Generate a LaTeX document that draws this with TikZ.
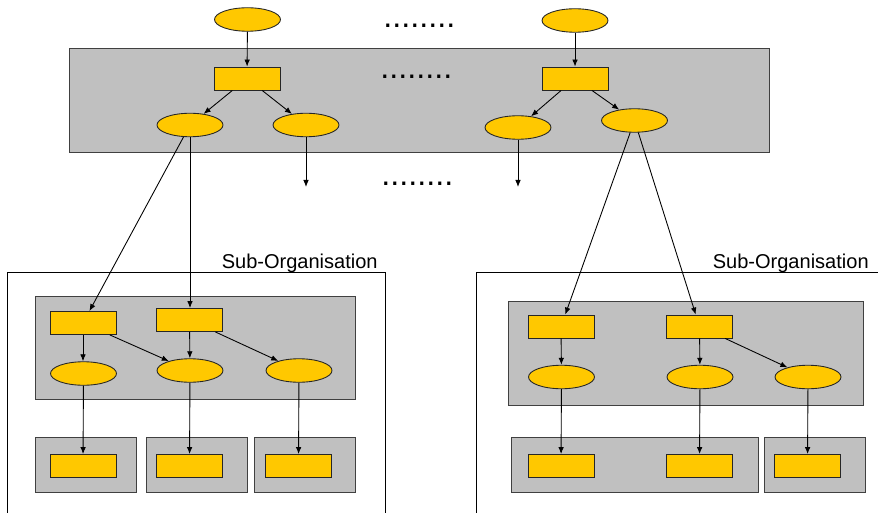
\documentclass[tikz,border=0pt]{standalone}
\usepackage{fontspec}
\setmainfont{Liberation Sans}
\usetikzlibrary{shapes.geometric,arrows.meta}
\definecolor{gold}{HTML}{FFC800}
\definecolor{panelgray}{HTML}{C0C0C0}
\tikzset{
  el/.style={ellipse,draw=black!85,fill=gold,line width=0.5pt,minimum width=1.32cm,minimum height=0.47cm,inner sep=0pt},
  bx/.style={rectangle,draw=black!85,fill=gold,line width=0.5pt,minimum width=1.32cm,minimum height=0.46cm,inner sep=0pt},
  panel/.style={draw=black!75,fill=panelgray,line width=0.5pt},
  frame/.style={draw=black,line width=0.45pt},
  arr/.style={draw=black,line width=0.5pt,-{Latex[length=4pt,width=3.2pt]}},
  dots/.style={inner sep=0pt,anchor=base west,font=\fontsize{18.4}{20}\selectfont},
  lbl/.style={inner sep=0pt,anchor=base east,font=\fontsize{11.4}{13}\selectfont}
}
\begin{document}
\begin{tikzpicture}[x=0.02cm,y=-0.02cm]
\useasboundingbox (0,0) rectangle (878,513);
% top panel
\draw[panel] (69,48) rectangle (769,152);
% top nodes
\node[el] (t1) at (247.5,19.5) {};
\node[el] (t2) at (575,20.5) {};
\node[bx] (r1) at (247,78.5) {};
\node[bx] (r2) at (575,78.5) {};
\node[el] (L1) at (190,125) {};
\node[el] (L2) at (306,125) {};
\node[el] (R1) at (518,127.5) {};
\node[el] (R2) at (634.5,120.5) {};
\coordinate (L2end) at (306,187);
\coordinate (R1end) at (518,187);
% dots
\node[dots] (d1) at (383,27.5) {........};
\node[dots] (d2) at (380,78.5) {........};
\node[dots] (d3) at (381,185.5) {........};
% sub-organisation frames
\draw[frame] (7,513) -- (7,272) -- (385,272) -- (385,513);
\draw[frame] (476,513) -- (476,272) -- (878,272);
\node[lbl] (s1) at (378,268) {Sub-Organisation};
\node[lbl] (s2) at (869,268) {Sub-Organisation};
% left sub-organisation panels
\draw[panel] (35,296) rectangle (355,399);
\draw[panel] (35,437) rectangle (136,492);
\draw[panel] (146,437) rectangle (247,492);
\draw[panel] (254,437) rectangle (355,492);
\node[bx] (A) at (83,323) {};
\node[bx] (B) at (189.5,320) {};
\node[el] (a) at (83.5,373.5) {};
\node[el] (b) at (190,370.5) {};
\node[el] (c) at (299,370.5) {};
\node[bx] (a1) at (83,466) {};
\node[bx] (b1) at (189.5,466) {};
\node[bx] (c1) at (298.5,466) {};
% right sub-organisation panels
\draw[panel] (508,301) rectangle (863,405);
\draw[panel] (511,437) rectangle (758,492);
\draw[panel] (764,437) rectangle (865,492);
\node[bx] (C) at (561,326.5) {};
\node[bx] (D) at (699.5,326.5) {};
\node[el] (d) at (561.5,377) {};
\node[el] (e) at (700,377) {};
\node[el] (f) at (808,377) {};
\node[bx] (d4) at (561,466) {};
\node[bx] (e4) at (699.5,466) {};
\node[bx] (f4) at (807.5,466) {};
% connectors top
\draw[arr] (t1) -- (r1);
\draw[arr] (t2) -- (r2);
\draw[arr] (r1) -- (L1);
\draw[arr] (r1) -- (L2);
\draw[arr] (r2) -- (R1);
\draw[arr] (r2) -- (R2);
\draw[arr] (L2) -- (L2end);
\draw[arr] (R1) -- (R1end);
\draw[arr] (L1) -- (A);
\draw[arr] (L1.south) -- (L1.south |- B.north);
\draw[arr] (R2) -- (C);
\draw[arr] (R2) -- (D);
% left sub
\draw[arr] (A.south) -- (A.south |- a.north);
\draw[arr] (A) -- (b);
\draw[arr] (B) -- (b);
\draw[arr] (B) -- (c);
\draw[arr] (a) -- (a1);
\draw[arr] (b) -- (b1);
\draw[arr] (c) -- (c1);
% right sub
\draw[arr] (C) -- (d);
\draw[arr] (D) -- (e);
\draw[arr] (D) -- (f);
\draw[arr] (d) -- (d4);
\draw[arr] (e) -- (e4);
\draw[arr] (f) -- (f4);
\end{tikzpicture}
\end{document}
